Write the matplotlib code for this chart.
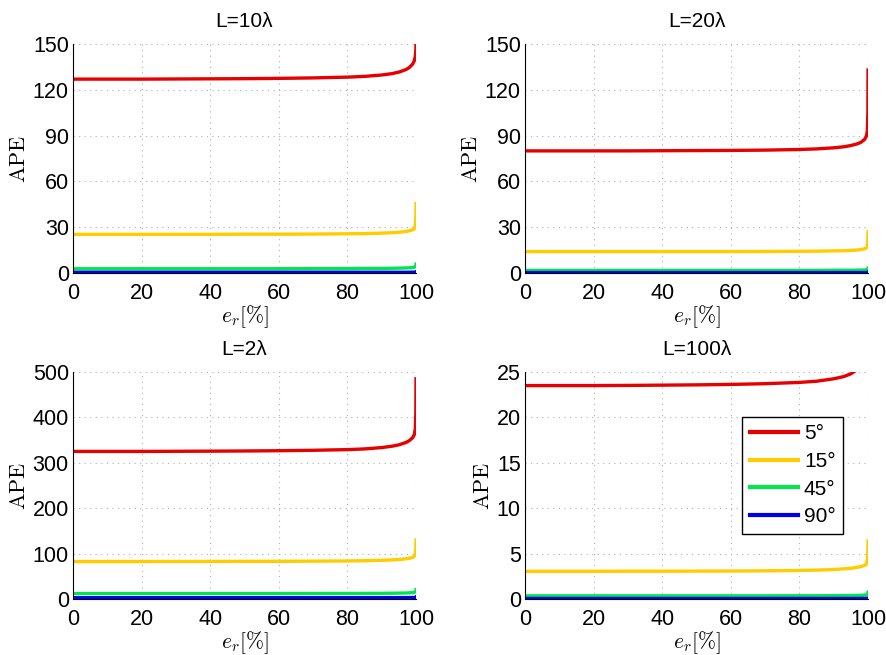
import matplotlib
matplotlib.use('Agg')
import matplotlib.pyplot as plt
import numpy as np

plt.rcParams['font.family'] = ['Liberation Sans', 'DejaVu Sans']
plt.rcParams['mathtext.fontset'] = 'cm'

# error ratio samples [%]
er = [0, 10, 20, 30, 40, 50, 60, 70, 80, 85, 90, 93, 95, 97, 98, 99, 99.5, 99.8, 99.95, 100]

labels = ['5°', '15°', '45°', '90°']
colors = ['#e60000', '#ffcc00', '#00e64d', '#0000f0']

# L = 10 lambda
ape10_5 = [127, 127, 127, 127.1, 127.2, 127.3, 127.5, 127.8, 128.3, 128.8, 129.7, 130.6, 131.6, 133.2, 134.5, 136.8, 139.0, 142.0, 146.0, 150]
ape10_15 = [25.3, 25.3, 25.3, 25.3, 25.3, 25.4, 25.4, 25.5, 25.7, 25.8, 26.1, 26.4, 26.7, 27.2, 27.6, 28.3, 29.0, 31.5, 37.0, 45.5]
ape10_45 = [2.8, 2.8, 2.8, 2.8, 2.8, 2.8, 2.8, 2.9, 2.9, 3.0, 3.0, 3.1, 3.2, 3.3, 3.4, 3.6, 3.8, 4.2, 4.8, 5.8]
ape10_90 = [0.5, 0.5, 0.5, 0.5, 0.5, 0.5, 0.5, 0.5, 0.5, 0.5, 0.5, 0.5, 0.5, 0.5, 0.5, 0.6, 0.6, 0.6, 0.7, 0.8]

# L = 20 lambda
ape20_5 = [80, 80, 80, 80, 80.1, 80.2, 80.3, 80.5, 80.9, 81.3, 82.0, 82.7, 83.5, 84.7, 85.7, 87.5, 89.5, 93, 105, 133]
ape20_15 = [14, 14, 14, 14, 14, 14, 14, 14.1, 14.2, 14.3, 14.5, 14.6, 14.8, 15.1, 15.4, 15.9, 16.4, 17.5, 21, 27]
ape20_45 = [1.7, 1.7, 1.7, 1.7, 1.7, 1.7, 1.7, 1.7, 1.7, 1.7, 1.8, 1.8, 1.8, 1.9, 1.9, 2.0, 2.1, 2.3, 2.6, 3.1]
ape20_90 = [0.3, 0.3, 0.3, 0.3, 0.3, 0.3, 0.3, 0.3, 0.3, 0.3, 0.3, 0.3, 0.3, 0.3, 0.3, 0.3, 0.3, 0.4, 0.4, 0.5]

# L = 2 lambda
ape2_5 = [325, 325, 325, 325.3, 325.6, 326, 326.6, 327.5, 329, 330.5, 333.5, 336.5, 339.5, 344.5, 348.5, 355, 362, 375, 410, 485]
ape2_15 = [82.5, 82.5, 82.5, 82.6, 82.7, 82.8, 83.0, 83.3, 83.8, 84.3, 85.2, 86.1, 87.0, 88.5, 89.6, 91.5, 94, 100, 112, 130]
ape2_45 = [12, 12, 12, 12, 12, 12, 12, 12.1, 12.2, 12.3, 12.5, 12.7, 12.9, 13.2, 13.5, 14.0, 14.6, 15.8, 17.5, 20.5]
ape2_90 = [3, 3, 3, 3, 3, 3, 3, 3, 3, 3, 3.1, 3.1, 3.1, 3.2, 3.2, 3.3, 3.4, 3.6, 3.9, 4.4]

# L = 100 lambda
ape100_5 = [23.5, 23.5, 23.5, 23.52, 23.55, 23.58, 23.63, 23.71, 23.85, 23.98, 24.25, 24.5, 24.8, 25.3, 25.7, 26.5, 27.3, 28.5, 31, 35]
ape100_15 = [3.05, 3.05, 3.05, 3.06, 3.06, 3.07, 3.08, 3.1, 3.14, 3.18, 3.25, 3.32, 3.38, 3.5, 3.58, 3.7, 3.85, 4.3, 5.2, 6.4]
ape100_45 = [0.35, 0.35, 0.35, 0.35, 0.35, 0.35, 0.35, 0.35, 0.36, 0.36, 0.37, 0.38, 0.39, 0.4, 0.41, 0.43, 0.45, 0.5, 0.6, 0.75]
ape100_90 = [0.06, 0.06, 0.06, 0.06, 0.06, 0.06, 0.06, 0.06, 0.06, 0.06, 0.06, 0.06, 0.06, 0.06, 0.07, 0.07, 0.07, 0.08, 0.09, 0.1]

panels = [
    ('L=10λ', [ape10_5, ape10_15, ape10_45, ape10_90], 150, np.arange(0, 151, 30), [0.0823, 0.5832, 0.3867, 0.3496]),
    ('L=20λ', [ape20_5, ape20_15, ape20_45, ape20_90], 150, np.arange(0, 151, 30), [0.5919, 0.5832, 0.3867, 0.3496]),
    ('L=2λ', [ape2_5, ape2_15, ape2_45, ape2_90], 500, np.arange(0, 501, 100), [0.0823, 0.0855, 0.3867, 0.3466]),
    ('L=100λ', [ape100_5, ape100_15, ape100_45, ape100_90], 25, np.arange(0, 26, 5), [0.5919, 0.0855, 0.3867, 0.3466]),
]

fig = plt.figure(figsize=(8.87, 6.55), dpi=100)

for i, (title, series, ymax, yt, pos) in enumerate(panels):
    ax = fig.add_axes(pos)
    for s, c, lab in zip(series, colors, labels):
        ax.plot(er, s, color=c, linewidth=2.4, label=lab)
    ax.set_xlim(0, 100)
    ax.set_ylim(0, ymax)
    ax.set_xticks(np.arange(0, 101, 20))
    ax.set_yticks(yt)
    ax.tick_params(axis='x', labelsize=15.5, length=0, pad=7)
    ax.tick_params(axis='y', labelsize=15.5, length=0, pad=3)
    ax.grid(True, linestyle=(0, (1, 4)), color='#b0b0b0', linewidth=0.8)
    ax.spines['top'].set_visible(False)
    ax.spines['right'].set_visible(False)
    ax.set_title(title, fontsize=15, pad=12)
    ax.set_ylabel(r'$\mathrm{APE}$', fontsize=16, labelpad=2)
    ax.set_xlabel(r'$e_r[\%]$', fontsize=15.5, labelpad=0)
    if i == 3:
        leg = ax.legend(loc='upper right', bbox_to_anchor=(0.927, 0.802), borderaxespad=0,
                        fontsize=15, handlelength=2.3, handletextpad=0.3,
                        borderpad=0.35, labelspacing=0.42,
                        fancybox=False, framealpha=1, edgecolor='black')
        leg.get_frame().set_linewidth(1.0)
        for ln in leg.get_lines():
            ln.set_linewidth(3)

plt.savefig('out.png', dpi=100)
